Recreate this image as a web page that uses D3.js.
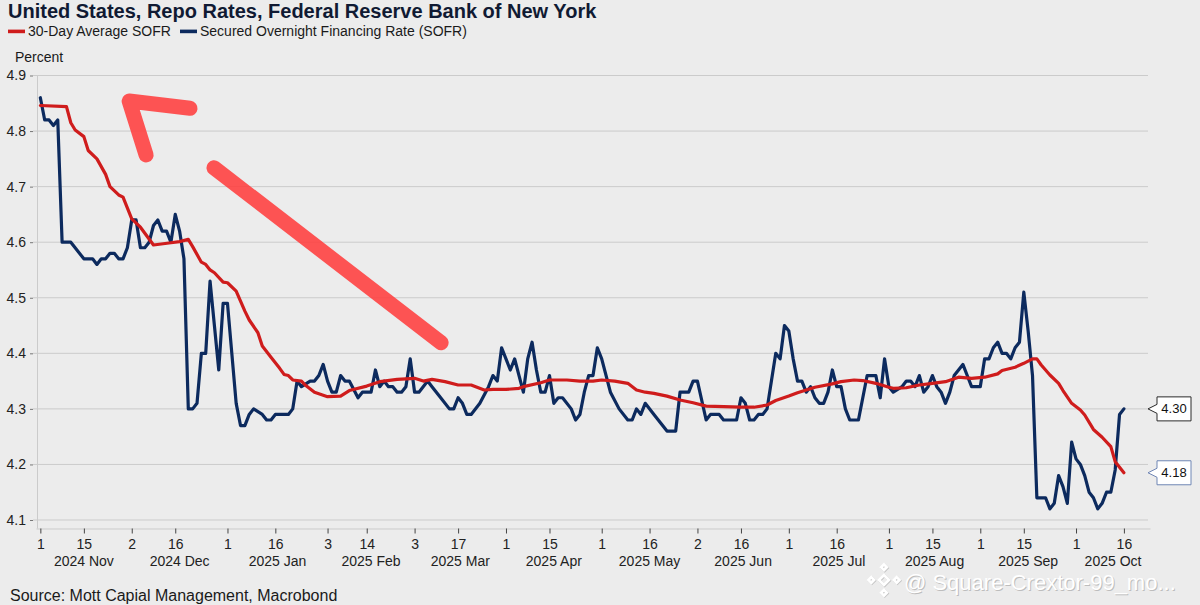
<!DOCTYPE html>
<html lang="en">
<head>
<meta charset="UTF-8">
<title>United States, Repo Rates, Federal Reserve Bank of New York</title>
<script src="https://d3js.org/d3.v7.min.js"></script>
<style>
  body { margin: 0; background: #ececec; }
  svg { display: block; font-family: "Liberation Sans", Arial, sans-serif; }
</style>
</head>
<body>
<script>
    // SOFR, percent (turning points, weekday dates)
    var sofrDates = [
        '2024-11-01','2024-11-04','2024-11-05','2024-11-06','2024-11-07','2024-11-08','2024-11-12','2024-11-15',
        '2024-11-19','2024-11-20','2024-11-21','2024-11-22','2024-11-25','2024-11-26','2024-11-27','2024-11-28',
        '2024-11-29','2024-12-02','2024-12-03','2024-12-04','2024-12-05','2024-12-06','2024-12-09','2024-12-10',
        '2024-12-11','2024-12-12','2024-12-13','2024-12-16','2024-12-17','2024-12-18','2024-12-19','2024-12-20',
        '2024-12-23','2024-12-24','2024-12-25','2024-12-26','2024-12-27','2024-12-30','2024-12-31','2025-01-01',
        '2025-01-02','2025-01-03','2025-01-06','2025-01-07','2025-01-08','2025-01-09','2025-01-13','2025-01-14',
        '2025-01-15','2025-01-16','2025-01-21','2025-01-22','2025-01-23','2025-01-24','2025-01-28','2025-01-29',
        '2025-01-30','2025-01-31','2025-02-03','2025-02-04','2025-02-05','2025-02-06','2025-02-07','2025-02-10',
        '2025-02-12','2025-02-13','2025-02-17','2025-02-18','2025-02-19','2025-02-20','2025-02-21','2025-02-24',
        '2025-02-25','2025-02-26','2025-02-27','2025-02-28','2025-03-03','2025-03-04','2025-03-06','2025-03-07',
        '2025-03-11','2025-03-13','2025-03-14','2025-03-17','2025-03-18','2025-03-19','2025-03-20','2025-03-24',
        '2025-03-26','2025-03-27','2025-03-28','2025-03-31','2025-04-01','2025-04-02','2025-04-03','2025-04-04',
        '2025-04-07','2025-04-08','2025-04-09','2025-04-10','2025-04-11','2025-04-14','2025-04-15','2025-04-16',
        '2025-04-17','2025-04-18','2025-04-22','2025-04-23','2025-04-24','2025-04-25','2025-04-28','2025-04-29',
        '2025-04-30','2025-05-01','2025-05-05','2025-05-07','2025-05-09','2025-05-12','2025-05-13','2025-05-14',
        '2025-05-15','2025-05-19','2025-05-21','2025-05-22','2025-05-26','2025-05-27','2025-05-29','2025-05-30',
        '2025-06-02','2025-06-04','2025-06-05','2025-06-09','2025-06-10','2025-06-13','2025-06-16','2025-06-17',
        '2025-06-18','2025-06-19','2025-06-20','2025-06-23','2025-06-24','2025-06-25','2025-06-26','2025-06-27',
        '2025-06-30','2025-07-01','2025-07-02','2025-07-03','2025-07-04','2025-07-07','2025-07-08','2025-07-09',
        '2025-07-10','2025-07-11','2025-07-14','2025-07-15','2025-07-16','2025-07-17','2025-07-18','2025-07-21',
        '2025-07-23','2025-07-25','2025-07-29','2025-07-30','2025-07-31','2025-08-01','2025-08-04','2025-08-06',
        '2025-08-07','2025-08-08','2025-08-11','2025-08-12','2025-08-13','2025-08-14','2025-08-15','2025-08-18',
        '2025-08-19','2025-08-20','2025-08-21','2025-08-22','2025-08-25','2025-08-26','2025-08-27','2025-08-28',
        '2025-09-01','2025-09-02','2025-09-03','2025-09-04','2025-09-05','2025-09-08','2025-09-09','2025-09-10',
        '2025-09-11','2025-09-12','2025-09-15','2025-09-16','2025-09-17','2025-09-18','2025-09-19','2025-09-22',
        '2025-09-23','2025-09-24','2025-09-25','2025-09-26','2025-09-29','2025-09-30','2025-10-01','2025-10-02',
        '2025-10-03','2025-10-06','2025-10-07','2025-10-08','2025-10-09','2025-10-10','2025-10-13','2025-10-14',
        '2025-10-15','2025-10-16'
    ];
    var sofrValues = [
        4.86, 4.82, 4.82, 4.81, 4.82, 4.60, 4.60, 4.57,
        4.57, 4.56, 4.57, 4.57, 4.58, 4.58, 4.57, 4.57,
        4.59, 4.64, 4.64, 4.59, 4.59, 4.60, 4.63, 4.64,
        4.62, 4.62, 4.60, 4.65, 4.62, 4.57, 4.30, 4.30,
        4.31, 4.40, 4.40, 4.53, 4.45, 4.37, 4.49, 4.49,
        4.40, 4.31, 4.27, 4.27, 4.29, 4.30, 4.29, 4.28,
        4.28, 4.29, 4.29, 4.30, 4.35, 4.34, 4.35, 4.35,
        4.36, 4.38, 4.35, 4.33, 4.33, 4.36, 4.35, 4.35,
        4.32, 4.33, 4.33, 4.37, 4.34, 4.35, 4.34, 4.34,
        4.33, 4.33, 4.34, 4.39, 4.33, 4.33, 4.35, 4.34,
        4.32, 4.30, 4.30, 4.32, 4.31, 4.29, 4.29, 4.31,
        4.34, 4.36, 4.35, 4.41, 4.39, 4.37, 4.39, 4.36,
        4.33, 4.39, 4.42, 4.37, 4.33, 4.33, 4.36, 4.31,
        4.32, 4.32, 4.30, 4.28, 4.29, 4.33, 4.36, 4.36,
        4.41, 4.39, 4.33, 4.30, 4.28, 4.28, 4.30, 4.29,
        4.31, 4.29, 4.27, 4.26, 4.26, 4.33, 4.33, 4.35,
        4.35, 4.28, 4.29, 4.29, 4.28, 4.28, 4.32, 4.31,
        4.28, 4.28, 4.29, 4.29, 4.30, 4.35, 4.40, 4.39,
        4.45, 4.44, 4.39, 4.35, 4.35, 4.33, 4.34, 4.32,
        4.31, 4.31, 4.33, 4.37, 4.34, 4.34, 4.30, 4.28,
        4.28, 4.36, 4.36, 4.32, 4.39, 4.34, 4.33, 4.34,
        4.35, 4.35, 4.34, 4.36, 4.33, 4.34, 4.36, 4.34,
        4.33, 4.31, 4.33, 4.36, 4.37, 4.38, 4.36, 4.34,
        4.34, 4.39, 4.39, 4.41, 4.42, 4.40, 4.40, 4.39,
        4.41, 4.42, 4.51, 4.44, 4.36, 4.14, 4.14, 4.14,
        4.12, 4.13, 4.18, 4.16, 4.13, 4.24, 4.21, 4.20,
        4.18, 4.15, 4.14, 4.12, 4.13, 4.15, 4.15, 4.19,
        4.29, 4.30
    ];

    // 30-day average SOFR, percent
    var avgDates = [
        '2024-11-01','2024-11-11','2024-11-12','2024-11-13','2024-11-15','2024-11-18','2024-11-20','2024-11-22',
        '2024-11-25','2024-11-27','2024-11-28','2024-12-02','2024-12-04','2024-12-09','2024-12-13','2024-12-17',
        '2024-12-19','2024-12-20','2024-12-24','2024-12-25','2024-12-26','2024-12-27','2024-12-31','2025-01-01',
        '2025-01-03','2025-01-07','2025-01-08','2025-01-10','2025-01-13','2025-01-15','2025-01-17','2025-01-20',
        '2025-01-21','2025-01-22','2025-01-24','2025-01-27','2025-01-29','2025-02-03','2025-02-06','2025-02-10',
        '2025-02-14','2025-02-19','2025-02-25','2025-03-03','2025-03-05','2025-03-07','2025-03-12','2025-03-17',
        '2025-03-20','2025-03-25','2025-03-27','2025-04-01','2025-04-04','2025-04-07','2025-04-11','2025-04-15',
        '2025-04-21','2025-04-24','2025-04-29','2025-05-01','2025-05-06','2025-05-09','2025-05-13','2025-05-15',
        '2025-05-19','2025-05-22','2025-05-27','2025-05-30','2025-06-04','2025-06-10','2025-06-16','2025-06-19',
        '2025-06-24','2025-06-26','2025-07-01','2025-07-03','2025-07-07','2025-07-09','2025-07-15','2025-07-17',
        '2025-07-22','2025-07-24','2025-07-29','2025-08-01','2025-08-04','2025-08-07','2025-08-12','2025-08-15',
        '2025-08-20','2025-08-25','2025-08-28','2025-09-02','2025-09-05','2025-09-08','2025-09-11','2025-09-15',
        '2025-09-17','2025-09-18','2025-09-19','2025-09-23','2025-09-25','2025-09-26','2025-09-30','2025-10-02',
        '2025-10-03','2025-10-07','2025-10-09','2025-10-13','2025-10-14','2025-10-16'
    ];
    var avgValues = [
        4.846, 4.844, 4.815, 4.802, 4.790, 4.765, 4.750, 4.722,
        4.700, 4.685, 4.681, 4.642, 4.627, 4.595, 4.599, 4.601,
        4.605, 4.592, 4.564, 4.560, 4.550, 4.545, 4.528, 4.527,
        4.512, 4.476, 4.460, 4.437, 4.413, 4.393, 4.373, 4.362,
        4.360, 4.352, 4.350, 4.342, 4.330, 4.322, 4.323, 4.333,
        4.341, 4.349, 4.353, 4.355, 4.350, 4.353, 4.349, 4.343,
        4.343, 4.334, 4.335, 4.335, 4.337, 4.340, 4.347, 4.352,
        4.352, 4.350, 4.350, 4.352, 4.350, 4.346, 4.334, 4.330,
        4.328, 4.323, 4.316, 4.311, 4.305, 4.304, 4.303, 4.303,
        4.307, 4.315, 4.323, 4.329, 4.334, 4.339, 4.345, 4.349,
        4.352, 4.351, 4.346, 4.339, 4.337, 4.338, 4.343, 4.346,
        4.349, 4.357, 4.355, 4.357, 4.363, 4.369, 4.375, 4.382,
        4.390, 4.390, 4.379, 4.361, 4.346, 4.333, 4.310, 4.298,
        4.289, 4.263, 4.249, 4.232, 4.205, 4.185
    ];

    var seriesNames = ['30-Day Average SOFR', 'Secured Overnight Financing Rate (SOFR)'];
    var seriesColors = ['#cf1c1c', '#0c2a5e'];

    // x axis ticks
    var tickDates = [
        '2024-11-01','2024-11-15','2024-12-02','2024-12-16','2025-01-01','2025-01-16','2025-02-03','2025-02-14',
        '2025-03-03','2025-03-17','2025-04-01','2025-04-15','2025-05-01','2025-05-16','2025-06-02','2025-06-16',
        '2025-07-01','2025-07-16','2025-08-01','2025-08-15','2025-09-01','2025-09-15','2025-10-01','2025-10-16'
    ];
    var tickLabels = ['1','15','2','16','1','16','3','14','3','17','1','15','1','16','2','16','1','16','1','15','1','15','1','16'];
    var monthKeys = ['2024-11','2024-12','2025-01','2025-02','2025-03','2025-04','2025-05','2025-06','2025-07','2025-08','2025-09','2025-10'];
    var monthLabels = ['2024 Nov','2024 Dec','2025 Jan','2025 Feb','2025 Mar','2025 Apr','2025 May','2025 Jun','2025 Jul','2025 Aug','2025 Sep','2025 Oct'];
    var yTicks = [4.1, 4.2, 4.3, 4.4, 4.5, 4.6, 4.7, 4.8, 4.9];

    // hand-drawn arrow on the picture, in [weekday index, percent]
    var arrowHead = [[34.4, 4.841], [20.4, 4.854], [24.3, 4.757]];
    var arrowShaft = [[39.9, 4.734], [92.1, 4.419]];

    var width = 1200, height = 605;
    var svg = d3.select('body').append('svg').attr('width', width).attr('height', height);
    svg.append('rect').attr('width', width).attr('height', height).attr('fill', '#ececec');

    // weekday calendar (Mon-Fri), used as the time axis
    var fmt = d3.utcFormat('%Y-%m-%d');
    var weekdays = d3.utcDays(new Date(Date.UTC(2024, 10, 1)), new Date(Date.UTC(2025, 11, 1)))
        .filter(d => d.getUTCDay() !== 0 && d.getUTCDay() !== 6);
    var dayIndex = new Map(weekdays.map((d, i) => [fmt(d), i]));
    var monthKey = d3.utcFormat('%Y-%m');

    var xMin = -1, xMax = 255;
    var x = d3.scaleLinear().domain([xMin, xMax]).range([36, 1150]);
    var y = d3.scaleLinear().domain([4.1, 4.9]).range([520, 75.5]);
    var plotLeft = 33, plotRight = 1148, axisY = 528.5;

    // title + legend
    svg.append('text').attr('x', 8).attr('y', 17.5)
        .attr('font-size', '20px').attr('font-weight', 'bold').attr('fill', '#101a33')
        .text('United States, Repo Rates, Federal Reserve Bank of New York');

    var legend = svg.append('g').attr('font-size', '14px').attr('fill', '#1a1a1a');
    var lx = [8, 180];
    seriesNames.forEach(function (name, i) {
        legend.append('rect').attr('x', lx[i]).attr('y', 29.6).attr('width', 17).attr('height', 3.6)
            .attr('fill', seriesColors[i]);
        legend.append('text').attr('x', lx[i] + 20).attr('y', 36).text(name);
    });

    svg.append('text').attr('x', 15).attr('y', 61.5).attr('font-size', '14px').attr('fill', '#1a1a1a').text('Percent');

    // gridlines
    svg.append('g').selectAll('line').data(yTicks).enter().append('line')
        .attr('x1', plotLeft).attr('x2', plotRight)
        .attr('y1', d => y(d)).attr('y2', d => y(d))
        .attr('stroke', '#cbcbcb').attr('stroke-width', 1);

    // y axis
    var yAxis = svg.append('g').attr('transform', 'translate(33,0)')
        .call(d3.axisLeft(y).tickValues(yTicks).tickFormat(d3.format('.1f')).tickSize(3).tickPadding(4));
    yAxis.select('.domain').remove();
    yAxis.selectAll('line').attr('stroke', '#777');
    yAxis.selectAll('text').attr('font-size', '14px').attr('fill', '#222')
        .attr('font-family', '"Liberation Sans", Arial, sans-serif');
    svg.append('line').attr('x1', 37.5).attr('x2', 37.5).attr('y1', y(4.9)).attr('y2', axisY)
        .attr('stroke', '#cbcbcb');

    // x axis
    var xAxis = svg.append('g').attr('transform', 'translate(0,' + axisY + ')')
        .call(d3.axisBottom(x).tickValues(tickDates.map(d => dayIndex.get(d)))
            .tickFormat((d, i) => tickLabels[i]).tickSize(5).tickPadding(6).tickSizeOuter(0));
    xAxis.select('.domain').attr('stroke', '#cbcbcb');
    xAxis.selectAll('.tick line').attr('stroke', '#444');
    xAxis.selectAll('text').attr('font-size', '14px').attr('fill', '#222')
        .attr('font-family', '"Liberation Sans", Arial, sans-serif');

    // month labels centred on the visible part of each month
    var monthStart = monthKeys.map(k => weekdays.findIndex(d => monthKey(d) === k));
    svg.append('g').selectAll('text').data(monthLabels).enter().append('text')
        .attr('x', function (d, i) {
            var s = i === 0 ? xMin : monthStart[i];
            var e = i + 1 < monthStart.length ? monthStart[i + 1] : xMax;
            return x((s + Math.min(e, xMax)) / 2);
        })
        .attr('y', 566).attr('text-anchor', 'middle')
        .attr('font-size', '14px').attr('fill', '#222').text(d => d);

    // series
    var sofr = sofrDates.map((d, i) => ({date: d, value: sofrValues[i]}));
    var avg = avgDates.map((d, i) => ({date: d, value: avgValues[i]}));
    var line = d3.line().x(d => x(dayIndex.get(d.date))).y(d => y(d.value));

    svg.append('path').datum(sofr).attr('d', line)
        .attr('fill', 'none').attr('stroke', seriesColors[1]).attr('stroke-width', 3.2)
        .attr('stroke-linejoin', 'round').attr('stroke-linecap', 'round');
    svg.append('path').datum(avg).attr('d', line)
        .attr('fill', 'none').attr('stroke', seriesColors[0]).attr('stroke-width', 3.2)
        .attr('stroke-linejoin', 'round').attr('stroke-linecap', 'round');

    // last value callouts
    var lastValues = [sofrValues[sofrValues.length - 1], avgValues[avgValues.length - 1]];
    var calloutBorder = ['#2b2b2b', '#6f86b5'];
    lastValues.forEach(function (v, i) {
        var cy = y(v), tip = 1148, bx = 1157, bw = 34, bh = 24;
        var p = d3.path();
        p.moveTo(tip, cy);
        p.lineTo(bx, cy - 4.5);
        p.lineTo(bx, cy - bh / 2);
        p.lineTo(bx + bw, cy - bh / 2);
        p.lineTo(bx + bw, cy + bh / 2);
        p.lineTo(bx, cy + bh / 2);
        p.lineTo(bx, cy + 4.5);
        p.closePath();
        svg.append('path').attr('d', p.toString()).attr('fill', '#fff')
            .attr('stroke', calloutBorder[i]).attr('stroke-width', 1);
        svg.append('text').attr('x', bx + bw / 2).attr('y', cy + 4.5).attr('text-anchor', 'middle')
            .attr('font-size', '13px').attr('fill', '#111').text(d3.format('.2f')(Math.floor(v * 100 + 1e-6) / 100));
    });

    // red arrow drawn over the chart
    var arrowLine = d3.line().x(d => x(d[0])).y(d => y(d[1]));
    [arrowHead, arrowShaft].forEach(function (pts) {
        svg.append('path').attr('d', arrowLine(pts))
            .attr('fill', 'none').attr('stroke', '#ff3d3d').attr('stroke-opacity', 0.88)
            .attr('stroke-width', 15).attr('stroke-linecap', 'round').attr('stroke-linejoin', 'round');
    });

    // source
    svg.append('text').attr('x', 10).attr('y', 601).attr('font-size', '16px').attr('fill', '#1a1a1a')
        .text('Source: Mott Capial Management, Macrobond');

    // watermark (white with a soft grey shadow)
    var wm = svg.append('g');
    var logo = wm.append('g').attr('transform', 'translate(884,580) rotate(45)')
        .attr('fill', 'none').attr('stroke-width', 2.6);
    [['#c4c4c4', 1], ['#fff', 0]].forEach(function (c) {
        [[0, 0, 7], [-9, -9, 4], [9, 9, 4], [-9, 9, 4], [9, -9, 4]].forEach(function (s) {
            logo.append('rect').attr('x', s[0] - s[2] / 2 + c[1]).attr('y', s[1] - s[2] / 2)
                .attr('width', s[2]).attr('height', s[2]).attr('stroke', c[0]);
        });
    });
    ['#bdbdbd', '#fff'].forEach(function (c, i) {
        wm.append('text').attr('x', 904 + (i ? 0 : 1)).attr('y', 590 + (i ? 0 : 1)).attr('font-size', '22px')
            .attr('fill', c).text('@ Square-Crextor-99_mo...');
    });
</script>
</body>
</html>
